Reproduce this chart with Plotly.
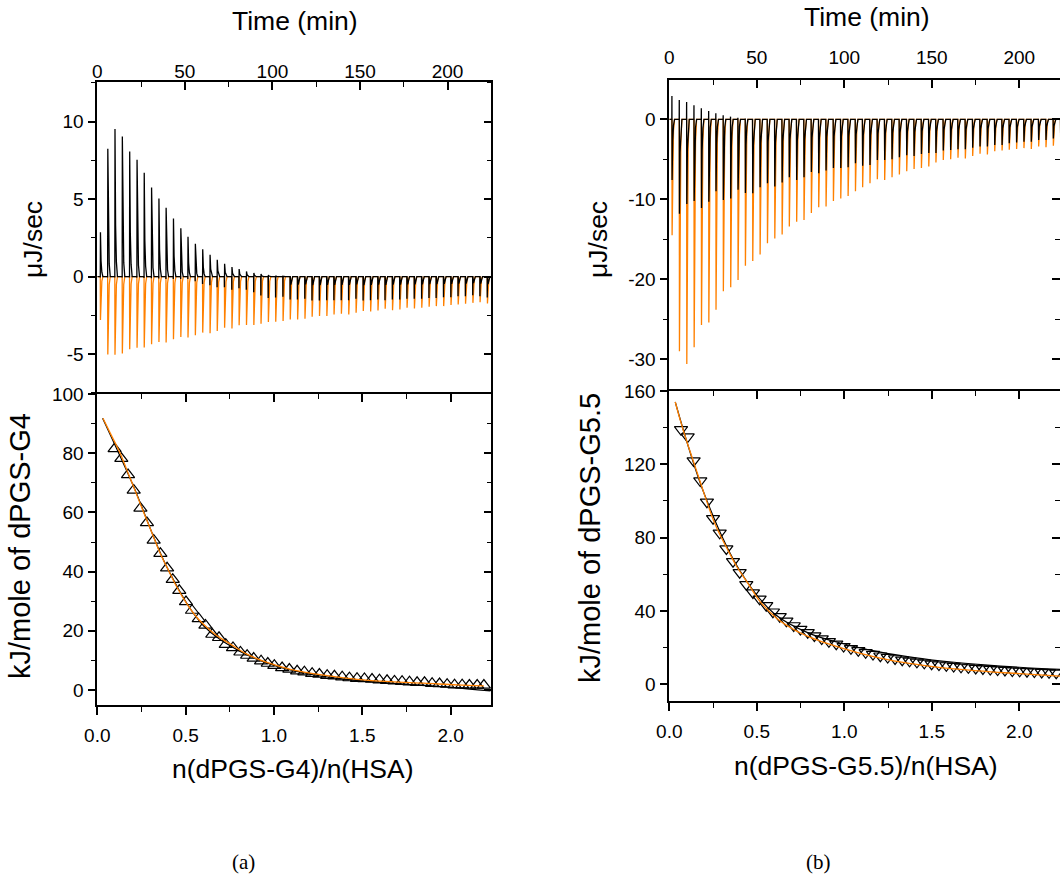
import plotly.graph_objects as go

W, H = 1060, 881
FONT = "Liberation Sans, Arial, sans-serif"
ORANGE = "#FF8000"

# ---------------- data : panel (a) raw ITC ----------------
inj_time_a = [1.7, 5.9, 10.0, 14.2, 18.4, 22.6, 26.7, 30.9, 35.1, 39.2, 43.4, 47.6, 51.7, 55.9,
              60.1, 64.3, 68.4, 72.6, 76.8, 80.9, 85.1, 89.3, 93.4, 97.6, 101.8, 106.0, 110.1,
              114.3, 118.5, 122.6, 126.8, 131.0, 135.1, 139.3, 143.5, 147.7, 151.8, 156.0, 160.2,
              164.3, 168.5, 172.7, 176.8, 181.0, 185.2, 189.4, 193.5, 197.7, 201.9, 206.0, 210.2,
              214.4, 218.5, 222.7]
sample_pos_a = [2.87, 8.25, 9.53, 9.04, 8.08, 7.54, 6.71, 5.75, 5.04, 4.44, 3.76, 3.12, 2.58, 2.12,
                1.77, 1.41, 1.09, 0.83, 0.62, 0.49, 0.34, 0.24, 0.17, 0.11, 0.06, 0.03, 0, 0, 0, 0,
                0, 0, 0, 0, 0, 0, 0, 0, 0, 0, 0, 0, 0, 0, 0, 0, 0, 0, 0, 0, 0, 0, 0, 0]
sample_neg_a = [-0.05, -0.05, -0.05, -0.05, -0.05, -0.06, -0.08, -0.1, -0.12, -0.15,
                -0.15, -0.15, -0.15, -0.3, -0.47, -0.56, -0.68, -0.68, -0.85, -0.75,
                -0.85, -1.0, -1.22, -1.38, -1.35, -1.3, -1.48, -1.48, -1.43, -1.54,
                -1.54, -1.52, -1.52, -1.52, -1.52, -1.43, -1.54, -1.52, -1.47, -1.52,
                -1.47, -1.47, -1.43, -1.43, -1.43, -1.37, -1.37, -1.33, -1.33, -1.26,
                -1.26, -1.2, -1.26, -1.35]
ref_neg_a = [-2.80, -5.02, -5.04, -4.96, -4.68, -4.59, -4.57, -4.36, -4.21, -4.25,
             -4.04, -3.89, -3.93, -3.78, -3.61, -3.65, -3.50, -3.29, -3.35, -3.14,
             -3.12, -3.12, -3.03, -2.93, -2.91, -2.86, -2.76, -2.76, -2.71, -2.58,
             -2.54, -2.54, -2.44, -2.39, -2.44, -2.33, -2.22, -2.24, -2.18, -2.07,
             -2.16, -2.12, -2.01, -2.05, -2.01, -1.94, -1.90, -1.90, -1.82, -1.79,
             -1.75, -1.69, -1.65, -1.73]

# ---------------- data : panel (a) integrated heats ----------------
ratio_a = [0.098, 0.136, 0.174, 0.206, 0.244, 0.281, 0.319, 0.357, 0.395, 0.427, 0.464, 0.502,
           0.536, 0.574, 0.612, 0.651, 0.689, 0.727, 0.768, 0.810, 0.848, 0.885, 0.927, 0.965,
           1.002, 1.046, 1.087, 1.131, 1.172, 1.216, 1.257, 1.301, 1.342, 1.386, 1.427, 1.470,
           1.512, 1.555, 1.597, 1.640, 1.682, 1.725, 1.767, 1.810, 1.852, 1.895, 1.937, 1.980,
           2.022, 2.065, 2.106, 2.150, 2.188]
heat_a = [81.5, 78.2, 72.7, 67.5, 61.4, 56.5, 50.6, 46.1, 41.2, 37.3, 33.6, 29.8, 26.9, 24.1,
          21.9, 18.8, 17.7, 15.4, 14.3, 12.8, 11.7, 10.7, 9.8, 9.0, 8.3, 7.5, 7.0, 6.4, 6.1,
          5.6, 5.3, 4.9, 4.7, 4.4, 4.1, 3.9, 3.8, 3.6, 3.4, 3.2, 3.0, 2.9, 2.7, 2.5, 2.5, 2.2,
          2.1, 1.9, 1.7, 1.7, 1.6, 1.6, 1.6]
fit_x_a = [0.032, 0.074, 0.130, 0.168, 0.206, 0.243, 0.281, 0.319, 0.357, 0.394, 0.451, 0.508,
           0.564, 0.621, 0.677, 0.753, 0.847, 0.960, 1.093, 1.281, 1.470, 1.659, 1.848, 2.037, 2.188]
fit_y_a = [91.8, 86.7, 79.9, 74.2, 68.6, 62.9, 57.3, 51.6, 46.0, 41.5, 34.7, 29.0, 24.5, 21.1,
           18.3, 15.5, 12.1, 9.3, 7.0, 5.0, 3.6, 2.8, 2.3, 1.7, 1.4]
fit2_x_a = [0.03, 0.2, 0.4, 0.6, 0.8, 1.0, 1.2, 1.4, 1.6, 1.8, 2.0, 2.225]
fit2_y_a = [91.8, 69.5, 40.8, 21.8, 13.3, 8.3, 5.4, 3.7, 2.6, 1.7, 0.9, -0.3]

# ---------------- data : panel (b) raw ITC ----------------
inj_time_b = [1.5, 5.7, 9.9, 14.1, 18.3, 22.5, 26.6, 30.8, 35.0, 39.2, 43.4, 47.6, 51.8, 56.0,
              60.2, 64.4, 68.5, 72.7, 76.9, 81.1, 85.3, 89.5, 93.7, 97.9, 102.1, 106.3, 110.4,
              114.6, 118.8, 123.0, 127.2, 131.4, 135.6, 139.8, 144.0, 148.2, 152.3, 156.5, 160.7,
              164.9, 169.1, 173.3, 177.5, 181.7, 185.9, 190.1, 194.2, 198.4, 202.6, 206.8, 211.0,
              215.2, 219.4, 223.6]
sample_pos_b = [2.9, 2.4, 2.16, 1.75, 1.37, 1.04, 0.75, 0.5, 0.33, 0.2, 0.1, 0, 0, 0, 0, 0, 0, 0,
                0, 0, 0, 0, 0, 0, 0, 0, 0, 0, 0, 0, 0, 0, 0, 0, 0, 0, 0, 0, 0, 0, 0, 0, 0, 0, 0,
                0, 0, 0, 0, 0, 0, 0, 0, 0]
sample_neg_b = [-7.6, -11.8, -10.6, -10.2, -11.1, -10.3, -9.0, -10.1, -9.9, -8.8,
                -9.2, -9.25, -8.5, -8.0, -8.4, -7.9, -7.25, -7.6, -7.25, -6.6,
                -6.75, -6.4, -6.1, -6.1, -6.0, -5.5, -5.8, -5.7, -5.1, -5.1,
                -5.0, -4.75, -4.5, -4.6, -4.35, -4.2, -4.2, -3.9, -3.85, -3.75,
                -3.75, -3.55, -3.4, -3.4, -3.2, -3.2, -3.0, -2.9, -2.8, -2.8,
                -2.6, -2.6, -2.4, -2.5]
ref_neg_b = [-14.5, -29.0, -30.6, -28.5, -25.7, -25.4, -23.8, -21.5, -21.0, -20.1,
             -18.3, -17.7, -16.9, -15.5, -14.9, -14.4, -13.4, -12.8, -12.6, -11.7,
             -11.0, -10.9, -10.2, -9.9, -9.6, -9.0, -8.5, -8.0, -7.5, -7.6,
             -7.25, -6.9, -6.5, -6.2, -6.1, -5.9, -5.4, -5.1, -5.0, -4.8,
             -4.9, -4.6, -4.3, -4.4, -4.0, -3.9, -3.8, -3.7, -3.6, -3.7,
             -3.4, -3.5, -3.3, -3.9]

# ---------------- data : panel (b) integrated heats ----------------
ratio_b = [0.067, 0.105, 0.139, 0.177, 0.215, 0.250, 0.288, 0.326, 0.364, 0.402, 0.440, 0.478,
           0.516, 0.554, 0.592, 0.631, 0.669, 0.711, 0.749, 0.791, 0.829, 0.871, 0.912, 0.954,
           0.996, 1.038, 1.080, 1.122, 1.164, 1.206, 1.248, 1.290, 1.331, 1.373, 1.415, 1.457,
           1.499, 1.541, 1.583, 1.625, 1.667, 1.709, 1.751, 1.792, 1.834, 1.876, 1.918, 1.960,
           2.002, 2.044, 2.086, 2.128, 2.170, 2.211]
heat_b = [139, 135, 122, 111, 99.5, 90.5, 82.5, 74, 67, 61, 54.5, 50, 46.5, 43, 39.5, 37, 34.5,
          32, 30, 28.3, 26.5, 24.8, 23.3, 22, 20.7, 19.5, 18.4, 17.3, 16.4, 15.5, 14.7, 14.0,
          13.3, 12.7, 12.1, 11.6, 11.1, 10.6, 10.2, 9.8, 9.4, 9.1, 8.8, 8.5, 8.2, 7.9, 7.7, 7.4,
          7.2, 7.0, 6.8, 6.6, 6.4, 6.2]
fit_x_b = [0.034, 0.063, 0.101, 0.139, 0.177, 0.215, 0.253, 0.291, 0.330, 0.387, 0.444, 0.520,
           0.615, 0.711, 0.806, 0.901, 1.091, 1.282, 1.472, 1.663, 1.853, 2.044, 2.234]
fit_y_b = [154.0, 144.0, 132.2, 121.3, 110.4, 99.5, 89.4, 81.3, 74.1, 64.0, 55.9, 45.0, 35.9,
           29.9, 25.6, 22.3, 16.9, 12.8, 10.1, 8.1, 6.7, 5.6, 4.5]
fit2_x_b = [0.034, 0.2, 0.4, 0.6, 0.8, 1.0, 1.2, 1.4, 1.6, 1.8, 2.0, 2.234]
fit2_y_b = [154, 103.8, 62.5, 38.5, 27.8, 22.0, 17.7, 14.6, 12.3, 10.6, 9.3, 8.2]

# ---------------- tick labels ----------------
time_ticks = [0, 50, 100, 150, 200]
time_labels = ["0", "50", "100", "150", "200"]
ratio_ticks = [0.0, 0.5, 1.0, 1.5, 2.0]
ratio_labels = ["0.0", "0.5", "1.0", "1.5", "2.0"]
raw_ticks_a = [-5, 0, 5, 10]
raw_labels_a = ["-5", "0", "5", "10"]
heat_ticks_a = [0, 20, 40, 60, 80, 100]
heat_labels_a = ["0", "20", "40", "60", "80", "100"]
raw_ticks_b = [-30, -20, -10, 0]
raw_labels_b = ["-30", "-20", "-10", "0"]
heat_ticks_b = [0, 40, 80, 120, 160]
heat_labels_b = ["0", "40", "80", "120", "160"]


def spike_line(times, first, second, t_end):
    """Build an ITC thermogram path: flat baseline with a sharp spike per injection."""
    xs, ys = [0.0], [0.0]
    for t, a, b in zip(times, first, second):
        tail = b if b != 0 else a
        xs += [t - 0.05, t, t + 0.1, t + 0.45, t + 0.9, t + 1.5]
        ys += [0.0, a, b, 0.35 * tail, 0.1 * tail, 0.0]
    xs.append(t_end)
    ys.append(0.0)
    return xs, ys


def px(x):
    return x / W


def py(y):
    return 1 - y / H


fig = go.Figure()

# ---- panel (a) top
zeros = [0] * len(inj_time_a)
x, y = spike_line(inj_time_a, zeros, ref_neg_a, 225)
fig.add_trace(go.Scatter(x=x, y=y, mode="lines", line=dict(color=ORANGE, width=1.3),
                         xaxis="x", yaxis="y", hoverinfo="skip"))
x, y = spike_line(inj_time_a, sample_neg_a, sample_pos_a, 225)
fig.add_trace(go.Scatter(x=x, y=y, mode="lines", line=dict(color="black", width=1.3),
                         xaxis="x", yaxis="y", hoverinfo="skip"))

# ---- panel (a) bottom
fig.add_trace(go.Scatter(x=fit2_x_a, y=fit2_y_a, mode="lines", line=dict(color="black", width=1.2, shape="spline"),
                         xaxis="x3", yaxis="y3"))
fig.add_trace(go.Scatter(x=ratio_a, y=heat_a, mode="markers",
                         marker=dict(symbol="triangle-up-open", size=11.5, color="black", line=dict(width=1.2)),
                         xaxis="x3", yaxis="y3"))
fig.add_trace(go.Scatter(x=fit_x_a, y=fit_y_a, mode="lines", line=dict(color=ORANGE, width=1.3, shape="spline"),
                         xaxis="x3", yaxis="y3"))

# ---- panel (b) top
zeros = [0] * len(inj_time_b)
x, y = spike_line(inj_time_b, zeros, ref_neg_b, 223.3)
fig.add_trace(go.Scatter(x=x, y=y, mode="lines", line=dict(color=ORANGE, width=1.3),
                         xaxis="x5", yaxis="y5", hoverinfo="skip"))
x, y = spike_line(inj_time_b, sample_pos_b, sample_neg_b, 223.3)
fig.add_trace(go.Scatter(x=x, y=y, mode="lines", line=dict(color="black", width=1.3),
                         xaxis="x5", yaxis="y5", hoverinfo="skip"))

# ---- panel (b) bottom
fig.add_trace(go.Scatter(x=fit2_x_b, y=fit2_y_b, mode="lines", line=dict(color="black", width=1.2, shape="spline"),
                         xaxis="x7", yaxis="y7"))
fig.add_trace(go.Scatter(x=ratio_b, y=heat_b, mode="markers",
                         marker=dict(symbol="triangle-down-open", size=11.5, color="black", line=dict(width=1.2)),
                         xaxis="x7", yaxis="y7"))
fig.add_trace(go.Scatter(x=fit_x_b, y=fit_y_b, mode="lines", line=dict(color=ORANGE, width=1.3, shape="spline"),
                         xaxis="x7", yaxis="y7"))

# invisible helper traces so overlay axes get drawn
for xa, ya in [("x", "y2"), ("x4", "y3"), ("x3", "y4"), ("x5", "y6"), ("x8", "y7"), ("x7", "y8")]:
    fig.add_trace(go.Scatter(x=[None], y=[None], xaxis=xa, yaxis=ya, mode="markers", showlegend=False))

TF = dict(family=FONT, size=19, color="black")
base = dict(showgrid=False, zeroline=False, linecolor="black", linewidth=1.6,
            tickcolor="black", tickwidth=1.5, tickfont=TF, tickmode="array")


def ax(**kw):
    d = dict(base)
    d.update(kw)
    return d


def minor(vals, direction):
    return dict(tickmode="array", tickvals=vals, ticks=direction, ticklen=5,
                tickwidth=1.3, tickcolor="black", showgrid=False)


xa_dom = [px(97.3), px(491.3)]
xb_dom = [px(669.3), 1.0]
ya_top = [py(394), py(81.7)]
ya_bot = [py(705), py(394)]
yb_top = [py(391), py(80)]
yb_bot = [py(701), py(391)]

t_minor = [25, 75, 125, 175, 225]
r_minor = [0.25, 0.75, 1.25, 1.75, 2.25]

layout = dict(
    width=W, height=H, margin=dict(l=0, r=0, t=0, b=0, autoexpand=False),
    paper_bgcolor="white", plot_bgcolor="white", showlegend=False,
    font=dict(family=FONT, color="black"),
    # panel (a) top
    xaxis=ax(domain=xa_dom, anchor="y", side="top", range=[0, 225], showline=True,
             tickvals=time_ticks, ticktext=time_labels, ticks="inside", ticklen=8,
             ticklabelstandoff=-6, minor=minor(t_minor, "inside")),
    yaxis=ax(domain=ya_top, anchor="x", range=[-7.57, 12.58], showline=True,
             tickvals=raw_ticks_a, ticktext=raw_labels_a, ticks="outside", ticklen=8,
             minor=minor([-7.5, -2.5, 2.5, 7.5, 12.5], "outside")),
    yaxis2=ax(overlaying="y", side="right", anchor="x", range=[-7.57, 12.58], showline=True,
              tickvals=raw_ticks_a, ticks="inside", ticklen=8, showticklabels=False,
              minor=minor([-7.5, -2.5, 2.5, 7.5, 12.5], "inside")),
    # panel (a) bottom
    xaxis3=ax(domain=xa_dom, anchor="y3", side="bottom", range=[0, 2.23], showline=True,
              tickvals=ratio_ticks, ticktext=ratio_labels, ticks="outside", ticklen=8,
              ticklabelstandoff=4, minor=minor(r_minor, "outside")),
    xaxis4=ax(overlaying="x3", anchor="y3", side="top", range=[0, 2.23], showline=True,
              tickvals=ratio_ticks, ticks="inside", ticklen=8, showticklabels=False,
              minor=minor(r_minor, "inside")),
    yaxis3=ax(domain=ya_bot, anchor="x3", range=[-5.07, 100], showline=True,
              tickvals=heat_ticks_a, ticktext=heat_labels_a, ticks="outside", ticklen=8,
              minor=minor([10, 30, 50, 70, 90], "outside")),
    yaxis4=ax(overlaying="y3", side="right", anchor="x3", range=[-5.07, 100], showline=True,
              tickvals=heat_ticks_a, ticks="inside", ticklen=8, showticklabels=False,
              minor=minor([10, 30, 50, 70, 90], "inside")),
    # panel (b) top
    xaxis5=ax(domain=xb_dom, anchor="y5", side="top", range=[0, 223.3], showline=True,
              tickvals=time_ticks, ticktext=time_labels, ticks="inside", ticklen=8,
              ticklabelstandoff=7, minor=minor(t_minor, "inside")),
    yaxis5=ax(domain=yb_top, anchor="x5", range=[-33.96, 4.91], showline=True,
              tickvals=raw_ticks_b, ticktext=raw_labels_b, ticks="outside", ticklen=8,
              minor=minor([-25, -15, -5], "outside")),
    yaxis6=ax(overlaying="y5", side="right", anchor="x5", range=[-33.96, 4.91], showline=False,
              tickvals=raw_ticks_b, ticks="inside", ticklen=8, showticklabels=False,
              minor=minor([-25, -15, -5], "inside")),
    # panel (b) bottom
    xaxis7=ax(domain=xb_dom, anchor="y7", side="bottom", range=[0, 2.2326], showline=True,
              tickvals=ratio_ticks, ticktext=ratio_labels, ticks="outside", ticklen=8,
              ticklabelstandoff=4, minor=minor(r_minor, "outside")),
    xaxis8=ax(overlaying="x7", anchor="y7", side="top", range=[0, 2.2326], showline=True,
              tickvals=ratio_ticks, ticks="inside", ticklen=8, showticklabels=False,
              minor=minor(r_minor, "inside")),
    yaxis7=ax(domain=yb_bot, anchor="x7", range=[-9.1, 160], showline=True,
              tickvals=heat_ticks_b, ticktext=heat_labels_b, ticks="outside", ticklen=8,
              minor=minor([20, 60, 100, 140], "outside")),
    yaxis8=ax(overlaying="y7", side="right", anchor="x7", range=[-9.1, 160], showline=False,
              tickvals=heat_ticks_b, ticks="inside", ticklen=8, showticklabels=False,
              minor=minor([20, 60, 100, 140], "inside")),
)
fig.update_layout(**layout)

TITLE = dict(family=FONT, size=26.5, color="black")
YTITLE = dict(family=FONT, size=29, color="black")


def note(text, x0, y0, angle=0, font=TITLE):
    fig.add_annotation(text=text, x=px(x0), y=py(y0), xref="paper", yref="paper",
                       showarrow=False, xanchor="center", yanchor="middle",
                       textangle=angle, font=font)


note("Time (min)", 295, 21)
note("Time (min)", 867, 17)
note("μJ/sec", 33, 240, -90)
note("kJ/mole of dPGS-G4", 20, 546, -90, font=YTITLE)
note("μJ/sec", 598, 240, -90)
note("kJ/mole of dPGS-G5.5", 590, 538, -90, font=YTITLE)
note("n(dPGS-G4)/n(HSA)", 293, 769)
note("n(dPGS-G5.5)/n(HSA)", 866, 766)
SERIF = dict(family="Liberation Serif, DejaVu Serif, serif", size=21, color="black")
note("(a)", 243, 862, font=SERIF)
note("(b)", 818, 862, font=SERIF)

fig.write_html("out.html")
